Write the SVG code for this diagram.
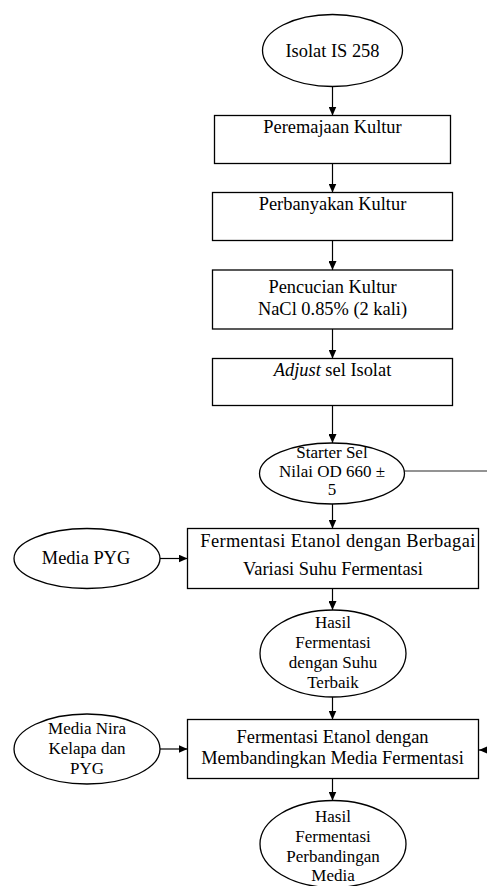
<svg xmlns="http://www.w3.org/2000/svg" width="487" height="886" viewBox="0 0 487 886">
<style>
  .shape { fill: #ffffff; stroke: #000000; stroke-width: 1.3; }
  .conn { fill: none; stroke: #000000; stroke-width: 1.2; }
  .grey { fill: none; stroke: #6f6f6f; stroke-width: 1.5; }
  text { font-family: "Liberation Serif", "Times New Roman", serif; fill: #000000; text-anchor: middle; }
  .b { font-size: 18.4px; }
  .e { font-size: 17px; }
</style>
<defs>
  <marker id="arr" markerWidth="9" markerHeight="8" refX="9" refY="4" orient="auto" markerUnits="userSpaceOnUse">
    <path d="M0,0 L9,4 L0,8 Z" fill="#000000"/>
  </marker>
</defs>
<rect width="487" height="886" fill="#ffffff"/>
<g id="connectors">
  <line class="conn" x1="332.5" y1="86.5" x2="332.5" y2="115.5" marker-end="url(#arr)"/>
  <line class="conn" x1="332.5" y1="163.5" x2="332.5" y2="192.5" marker-end="url(#arr)"/>
  <line class="conn" x1="332.5" y1="240.5" x2="332.5" y2="270" marker-end="url(#arr)"/>
  <line class="conn" x1="332.5" y1="329" x2="332.5" y2="358.5" marker-end="url(#arr)"/>
  <line class="conn" x1="332.5" y1="405.5" x2="332.5" y2="443" marker-end="url(#arr)"/>
  <line class="grey" x1="404.5" y1="471" x2="487" y2="471"/>
  <line class="conn" x1="332.5" y1="504" x2="332.5" y2="528.5" marker-end="url(#arr)"/>
  <line class="conn" x1="160" y1="558.5" x2="187.5" y2="558.5" marker-end="url(#arr)"/>
  <line class="conn" x1="332.5" y1="588.5" x2="332.5" y2="610" marker-end="url(#arr)"/>
  <line class="conn" x1="332.5" y1="697" x2="332.5" y2="719.5" marker-end="url(#arr)"/>
  <line class="conn" x1="160" y1="749" x2="187.5" y2="749" marker-end="url(#arr)"/>
  <line class="conn" x1="492" y1="750" x2="479" y2="750" marker-end="url(#arr)"/>
  <line class="conn" x1="332.5" y1="778.5" x2="332.5" y2="800.5" marker-end="url(#arr)"/>
</g>
<g id="isolat">
  <ellipse class="shape" cx="332.5" cy="50.5" rx="70" ry="36"/>
  <text class="b" x="332.5" y="57">Isolat IS 258</text>
</g>
<g id="peremajaan">
  <rect class="shape" x="214.5" y="115.5" width="236" height="48"/>
  <text class="b" x="332.5" y="133">Peremajaan Kultur</text>
</g>
<g id="perbanyakan">
  <rect class="shape" x="212.5" y="192.5" width="240" height="48"/>
  <text class="b" x="332.5" y="210">Perbanyakan Kultur</text>
</g>
<g id="pencucian">
  <rect class="shape" x="212.5" y="270" width="240" height="59"/>
  <text class="b" x="332.5" y="293.3">Pencucian Kultur</text>
  <text class="b" x="332.5" y="315">NaCl 0.85% (2 kali)</text>
</g>
<g id="adjust">
  <rect class="shape" x="212.5" y="358.5" width="240" height="47"/>
  <text class="b" x="332.5" y="375.7"><tspan font-style="italic">Adjust</tspan> sel Isolat</text>
</g>
<g id="starter">
  <ellipse class="shape" cx="332" cy="473.5" rx="72.5" ry="30.5"/>
  <text class="e" x="332" y="458.3">Starter Sel</text>
  <text class="e" x="332" y="476.7">Nilai OD 660 ±</text>
  <text class="e" x="332" y="495">5</text>
</g>
<g id="media-pyg">
  <ellipse class="shape" cx="87" cy="558.5" rx="73" ry="30"/>
  <text class="b" x="86" y="564">Media PYG</text>
</g>
<g id="fermentasi-suhu">
  <rect class="shape" x="187.5" y="528.5" width="291" height="60"/>
  <text class="b" x="337.8" y="546.7" textLength="275" lengthAdjust="spacing">Fermentasi Etanol dengan Berbagai</text>
  <text class="b" x="333" y="575">Variasi Suhu Fermentasi</text>
</g>
<g id="hasil-suhu">
  <ellipse class="shape" cx="333" cy="653.5" rx="73" ry="43.5"/>
  <text class="e" x="333" y="628.3">Hasil</text>
  <text class="e" x="333" y="648.3">Fermentasi</text>
  <text class="e" x="333" y="668.3">dengan Suhu</text>
  <text class="e" x="333" y="688.3">Terbaik</text>
</g>
<g id="media-nira">
  <ellipse class="shape" cx="87" cy="749" rx="73" ry="35"/>
  <text class="e" x="87" y="734">Media Nira</text>
  <text class="e" x="87" y="754">Kelapa dan</text>
  <text class="e" x="87" y="774">PYG</text>
</g>
<g id="fermentasi-media">
  <rect class="shape" x="187.5" y="719.5" width="291" height="59"/>
  <text class="b" x="332.5" y="743.3">Fermentasi Etanol dengan</text>
  <text class="b" x="332.5" y="764">Membandingkan Media Fermentasi</text>
</g>
<g id="hasil-media">
  <ellipse class="shape" cx="333" cy="844" rx="73" ry="43.5"/>
  <text class="e" x="333" y="821.7">Hasil</text>
  <text class="e" x="333" y="841.7">Fermentasi</text>
  <text class="e" x="333" y="861.7">Perbandingan</text>
  <text class="e" x="333" y="880.7">Media</text>
</g>
</svg>
